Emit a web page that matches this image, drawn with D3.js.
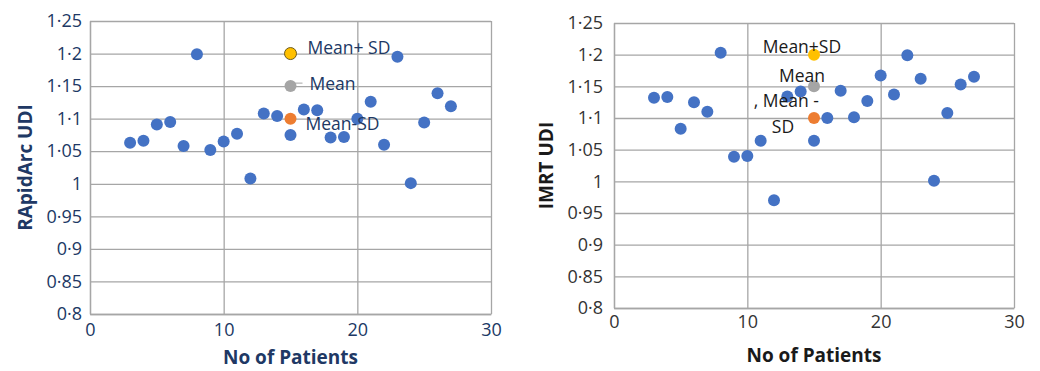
<!DOCTYPE html>
<html>
<head>
<meta charset="utf-8">
<script src="https://cdn.jsdelivr.net/npm/d3@7"></script>
<style>
  body { margin: 0; background: #fff; }
  svg { display: block; font-family: "Open Sans", "Noto Sans", sans-serif; }
</style>
</head>
<body>
<div id="chart"></div>
<script>
// patient numbers (x) and UDI values
const patients = [3, 4, 5, 6, 7, 8, 9, 10, 11, 12, 13, 14, 15, 16, 17, 18, 19, 20, 21, 22, 23, 24, 25, 26, 27];
const rapidArcUDI = [1.063, 1.066, 1.091, 1.095, 1.058, 1.199, 1.052, 1.065, 1.077, 1.008, 1.108, 1.104, 1.075,
    1.114, 1.113, 1.071, 1.072, 1.100, 1.126, 1.060, 1.195, 1.001, 1.094, 1.139, 1.119];
const imrtUDI = [1.132, 1.133, 1.083, 1.125, 1.110, 1.203, 1.039, 1.040, 1.064, 0.970, 1.134, 1.142, 1.064,
    1.100, 1.143, 1.101, 1.127, 1.167, 1.137, 1.199, 1.162, 1.001, 1.108, 1.153, 1.165];

// summary markers (Mean+SD, Mean, Mean-SD), plotted at x = 15
const summaryX = 15;
const rapidArcSummary = [1.20, 1.15, 1.10];
const imrtSummary = [1.20, 1.15, 1.10];
const summaryColors = ["#ffc000", "#a5a5a5", "#ed7d31"];

const xTicks = [0, 10, 20, 30];
const yTicks = [0.8, 0.85, 0.9, 0.95, 1, 1.05, 1.1, 1.15, 1.2, 1.25];

const W = 1040, H = 371;
const svg = d3.select("#chart").append("svg")
    .attr("width", W)
    .attr("height", H);

const fmt = v => String(+v.toFixed(2)).replace(".", "\u00b7");

function drawPanel(opt) {
    const x = d3.scaleLinear().domain([0, 30]).range([opt.left, opt.right]);
    const y = d3.scaleLinear().domain([0.8, 1.25]).range([opt.bottom, opt.top]);
    const g = svg.append("g");

    // horizontal grid + y labels
    const yAxis = g.append("g")
        .attr("transform", `translate(${opt.left},0)`)
        .call(d3.axisLeft(y).tickValues(yTicks).tickFormat(fmt)
            .tickSizeInner(-(opt.right - opt.left)).tickSizeOuter(0).tickPadding(opt.yPad));
    yAxis.selectAll("line").attr("stroke", "#a6a6a6").attr("stroke-width", 1.3);
    yAxis.select(".domain").attr("stroke", "#a6a6a6").attr("stroke-width", 1.3);
    yAxis.selectAll("text")
        .attr("fill", opt.tickColor)
        .style("font-size", "18px")
        .style("font-family", "'Open Sans', sans-serif");

    // vertical grid + x labels
    const xAxis = g.append("g")
        .attr("transform", `translate(0,${opt.bottom})`)
        .call(d3.axisBottom(x).tickValues(xTicks).tickFormat(d3.format("d"))
            .tickSizeInner(-(opt.bottom - opt.top)).tickSizeOuter(0).tickPadding(opt.xPad));
    xAxis.selectAll("line").attr("stroke", "#a6a6a6").attr("stroke-width", 1.3);
    xAxis.select(".domain").attr("stroke", "#a6a6a6").attr("stroke-width", 1.3);
    xAxis.selectAll("text")
        .attr("fill", opt.tickColor)
        .style("font-size", "18px")
        .style("font-family", "'Open Sans', sans-serif");

    // axis titles
    g.append("text")
        .attr("x", (opt.left + opt.right) / 2)
        .attr("y", opt.xTitleY)
        .attr("text-anchor", "middle")
        .attr("fill", opt.titleColor)
        .style("font-size", "19px")
        .style("font-weight", "bold")
        .text("No of Patients");

    g.append("text")
        .attr("transform", `translate(${opt.yTitleX},${(opt.top + opt.bottom) / 2}) rotate(-90)`)
        .attr("text-anchor", "middle")
        .attr("dominant-baseline", "central")
        .attr("fill", opt.titleColor)
        .style("font-size", "19px")
        .style("font-weight", "bold")
        .text(opt.yTitle);

    // data points
    g.selectAll(".pt")
        .data(patients.map((p, i) => [p, opt.values[i]]))
        .enter()
        .append("circle")
        .attr("class", "pt")
        .attr("cx", d => x(d[0]))
        .attr("cy", d => y(d[1]))
        .attr("r", 6)
        .attr("fill", "#4472c4");

    // leader line for Mean label (left panel only)
    if (opt.leader) {
        g.append("line")
            .attr("x1", x(summaryX)).attr("x2", x(summaryX) + 12)
            .attr("y1", y(opt.summary[1]) - 3).attr("y2", y(opt.summary[1]) - 3)
            .attr("stroke", "#a5a5a5").attr("stroke-width", 1);
    }

    // summary markers
    g.selectAll(".sm")
        .data(opt.summary)
        .enter()
        .append("circle")
        .attr("class", "sm")
        .attr("cx", x(summaryX))
        .attr("cy", d => y(d))
        .attr("r", 6)
        .attr("fill", (d, i) => summaryColors[i])
        .attr("stroke", (d, i) => (i === 0 && opt.outline) ? "#6b5a1e" : "none")
        .attr("stroke-width", 1);

    // summary labels
    opt.labels.forEach(l => {
        g.append("text")
            .attr("x", x(summaryX) + l.dx)
            .attr("y", y(l.v) + l.dy)
            .attr("text-anchor", l.anchor)
            .attr("dominant-baseline", "central")
            .attr("fill", opt.labelColor)
            .style("font-size", "17.5px")
            .text(l.t);
    });
}

drawPanel({
    left: 90, right: 491, top: 21, bottom: 314,
    yPad: 8, xPad: 9, xTitleY: 364, yTitleX: 25,
    values: rapidArcUDI, summary: rapidArcSummary,
    yTitle: "RApidArc UDI",
    tickColor: "#203864", titleColor: "#203864", labelColor: "#203864",
    outline: true, leader: true,
    labels: [
        { t: "Mean+ SD", v: 1.20, dx: 17, dy: -7, anchor: "start" },
        { t: "Mean", v: 1.15, dx: 19, dy: -3, anchor: "start" },
        { t: "Mean-SD", v: 1.10, dx: 15, dy: 4, anchor: "start" }
    ]
});

drawPanel({
    left: 614, right: 1014, top: 23, bottom: 308,
    yPad: 11, xPad: 7, xTitleY: 362, yTitleX: 546,
    values: imrtUDI, summary: imrtSummary,
    yTitle: "IMRT UDI",
    tickColor: "#333333", titleColor: "#1a1a1a", labelColor: "#1a1a1a",
    outline: false, leader: false,
    labels: [
        { t: "Mean+SD", v: 1.20, dx: -12, dy: -9, anchor: "middle" },
        { t: "Mean", v: 1.15, dx: -12, dy: -11, anchor: "middle" },
        { t: ", Mean -", v: 1.10, dx: 5, dy: -18, anchor: "end" },
        { t: "SD", v: 1.10, dx: -31, dy: 8, anchor: "middle" }
    ]
});
</script>
</body>
</html>
